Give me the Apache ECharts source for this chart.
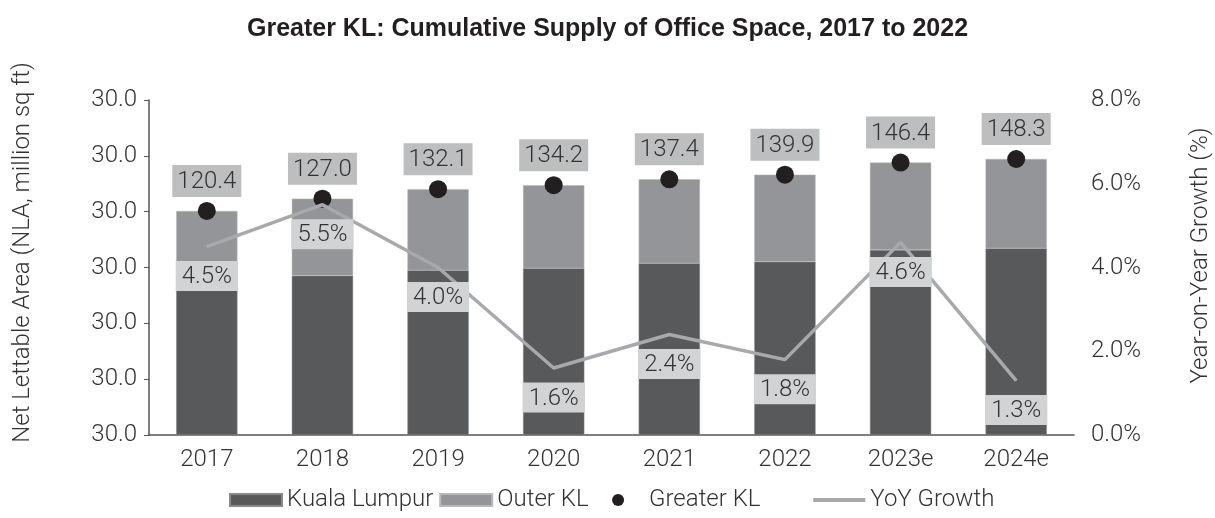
<!DOCTYPE html>
<html>
<head>
<meta charset="utf-8">
<script src="https://cdn.jsdelivr.net/npm/echarts@6/dist/echarts.min.js"></script>
<style>
  html, body { margin: 0; padding: 0; background: #fff; }
  #chart { width: 1215px; height: 518px; }
</style>
</head>
<body>
<div id="chart"></div>
<script>
const title = 'Greater KL: Cumulative Supply of Office Space, 2017 to 2022';
const years = ['2017', '2018', '2019', '2020', '2021', '2022', '2023e', '2024e'];
const greaterKL = [120.4, 127.0, 132.1, 134.2, 137.4, 139.9, 146.4, 148.3];
const kualaLumpur = [80.0, 85.6, 88.5, 89.6, 92.3, 93.1, 99.4, 100.3];
const outerKL = [40.4, 41.4, 43.6, 44.6, 45.1, 46.8, 47.0, 48.0];
const yoyGrowth = [4.5, 5.5, 4.0, 1.6, 2.4, 1.8, 4.6, 1.3];
const leftTicks = ['30.0', '30.0', '30.0', '30.0', '30.0', '30.0', '30.0'];
const rightTicks = ['0.0%', '2.0%', '4.0%', '6.0%', '8.0%'];

const font = 'Roboto';
const ink = '#231f20';
const txt = '#333';
const fs = 24;

const option = {
  animation: false,
  textStyle: { fontFamily: font, fontWeight: 300 },
  title: {
    text: title,
    left: 'center',
    top: 12,
    textStyle: {
      fontFamily: 'Liberation Sans',
      fontWeight: 'bold',
      fontSize: 25,
      color: ink
    }
  },
  legend: {
    bottom: 1,
    left: 224,
    itemWidth: 52,
    itemHeight: 12,
    itemGap: 6,
    selectedMode: false,
    textStyle: { fontSize: fs, color: txt, fontFamily: font, fontWeight: 300 },
    // wider slots after Outer KL and Greater KL, as in the original
    formatter: (name) => {
      if (name === 'Outer KL') return name + '   ';
      if (name === 'Greater KL') return name + '        ';
      return name;
    },
    data: [
      { name: 'Kuala Lumpur', icon: 'rect' },
      { name: 'Outer KL', icon: 'rect' },
      { name: 'Greater KL', icon: 'circle' },
      { name: 'YoY Growth', icon: 'path://M0,0H52V4H0Z' }
    ]
  },
  grid: { left: 149, right: 141, top: 100, bottom: 83, outerBoundsMode: 'none' },
  xAxis: {
    type: 'category',
    data: years,
    axisTick: { show: false },
    axisLine: { lineStyle: { color: '#555', width: 1.5 } },
    axisLabel: { fontSize: fs, color: txt, margin: 13 }
  },
  yAxis: [
    {
      type: 'value',
      min: 0,
      max: 180,
      interval: 30,
      name: 'Net Lettable Area (NLA, million sq ft)',
      nameLocation: 'middle',
      nameRotate: 90,
      nameGap: 114,
      nameTextStyle: { fontSize: fs, color: txt, padding: [0, 0, 0, 30] },
      splitLine: { show: false },
      axisLine: { show: true, lineStyle: { color: '#555', width: 1.5 } },
      axisTick: { show: true, length: 5, lineStyle: { color: '#555' } },
      axisLabel: {
        fontSize: fs, color: txt, margin: 12,
        formatter: (v) => leftTicks[Math.round(v / 30)]
      }
    },
    {
      type: 'value',
      min: 0,
      max: 8,
      interval: 2,
      position: 'right',
      name: 'Year-on-Year Growth (%)',
      nameLocation: 'middle',
      nameRotate: 90,
      nameGap: 115,
      nameTextStyle: { fontSize: fs, color: txt, padding: [0, 0, 0, 24] },
      splitLine: { show: false },
      axisLine: { show: false },
      axisTick: { show: false },
      axisLabel: {
        fontSize: fs, color: txt, margin: 17,
        formatter: (v) => rightTicks[Math.round(v / 2)]
      }
    }
  ],
  series: [
    {
      name: 'Kuala Lumpur',
      type: 'bar',
      stack: 'supply',
      barWidth: '53%',
      itemStyle: { color: '#58595b', borderColor: '#8a8a8c', borderWidth: 0.5 },
      data: kualaLumpur,
      z: 2
    },
    {
      name: 'Outer KL',
      type: 'bar',
      stack: 'supply',
      itemStyle: { color: '#939598', borderColor: '#b8b9bb', borderWidth: 0.5 },
      data: outerKL,
      z: 2
    },
    {
      name: 'YoY Growth',
      type: 'line',
      yAxisIndex: 1,
      data: yoyGrowth,
      symbol: 'circle',
      symbolSize: 1,
      itemStyle: { color: '#a7a9ac' },
      lineStyle: { color: '#a7a9ac', width: 3.5 },
      z: 4,
      label: {
        show: true,
        position: 'bottom',
        distance: 14,
        fontSize: fs,
        color: txt,
        backgroundColor: '#d1d3d4',
        padding: [4, 6, 2, 6],
        formatter: (p) => p.value.toFixed(1) + '%'
      }
    },
    {
      name: 'Greater KL',
      type: 'scatter',
      data: greaterKL,
      symbolSize: 18,
      itemStyle: { color: ink, opacity: 1 },
      z: 3,
      label: {
        show: true,
        position: 'top',
        distance: 5,
        fontSize: fs,
        color: txt,
        backgroundColor: '#bcbec0',
        padding: [5, 5, 3, 5],
        formatter: (p) => p.value.toFixed(1)
      }
    }
  ]
};

const chart = echarts.init(document.getElementById('chart'));
chart.setOption(option);
</script>
</body>
</html>
